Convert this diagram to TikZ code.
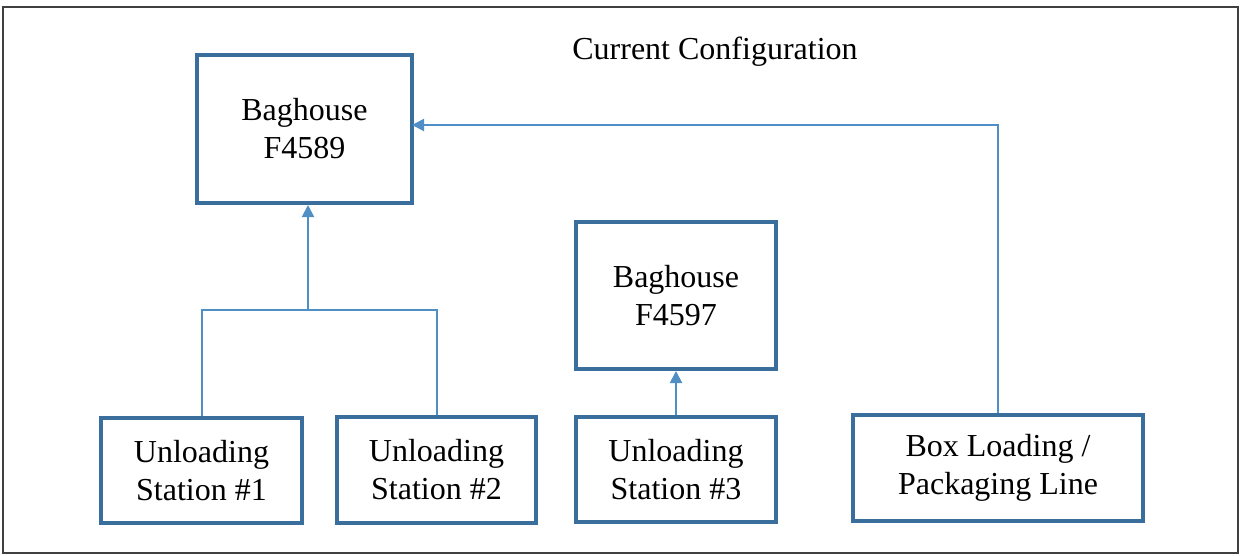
\documentclass[tikz,border=0pt]{standalone}
\usepackage{fontspec}
\setmainfont{Liberation Serif}
\usetikzlibrary{arrows.meta}
\definecolor{boxblue}{HTML}{3A6E9C}
\definecolor{lineblue}{HTML}{4F8FC6}
\tikzset{
	% unit boxes and the duct lines between them
	unit box/.style={rectangle,draw=boxblue,line width=2pt,align=center,inner sep=0pt,
		font=\fontsize{16}{19}\selectfont},
	duct/.style={draw=lineblue,line width=1pt},
	duct arrow/.style={duct,-{Triangle[width=6pt,length=6pt]}}
}
\begin{document}
\begin{tikzpicture}[x=0.5pt,y=-0.5pt]
	\useasboundingbox (0,0) rectangle (1241,556);
	\draw[black!75,line width=1pt] (3,7) rectangle (1238,553);
	\node(title) at (715,52) {\fontsize{16}{19}\selectfont Current Configuration};
	
	% baghouses
	\node(f4589)[unit box,minimum width=107.5pt,minimum height=74pt] at (304.5,129) {Baghouse\\F4589};
	\node(f4597)[unit box,minimum width=100pt,minimum height=73.5pt] at (676,295.5) {Baghouse\\F4597};
	
	% sources
	\node(us1)[unit box,minimum width=100.5pt,minimum height=52.5pt] at (201.5,470.5) {Unloading\\Station \#1};
	\node(us2)[unit box,minimum width=99.5pt,minimum height=53pt] at (436.5,470) {Unloading\\Station \#2};
	\node(us3)[unit box,minimum width=100pt,minimum height=52.5pt] at (676,469.5) {Unloading\\Station \#3};
	\node(pack)[unit box,minimum width=145pt,minimum height=53pt] at (998,468) {Box Loading /\\Packaging Line};
	
	\coordinate(join) at (308,310);
	\coordinate(side) at (412,125);
	\draw[duct] (us1.north) |- (join) -| (us2.north);
	\draw[duct arrow] (join) -- (join |- f4589.south);
	\draw[duct arrow] (pack.north) |- (side);
	\draw[duct arrow] (us3.north) -- (f4597.south);
\end{tikzpicture}
\end{document}
